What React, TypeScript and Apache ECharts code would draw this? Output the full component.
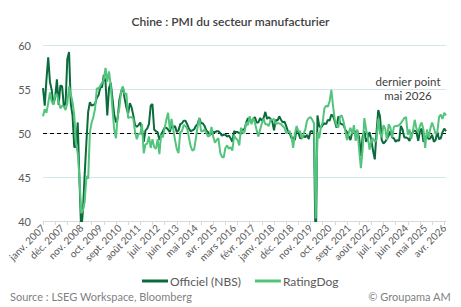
import React, { useEffect, useRef } from "react";
import * as echarts from "echarts";

const monthNames = ["janv.", "févr.", "mars", "avr.", "mai", "juin", "juil.", "août", "sept.", "oct.", "nov.", "déc."];
const firstYear = 2007;

// Officiel (NBS), monthly from janv. 2007 to mai 2026
const nbs = [
  55.1, 53.1, 56.1, 58.6, 55.8, 54.9, 53.3, 54.0, 56.1, 53.2, 55.4, 55.3,
  53.0, 53.4, 58.4, 59.2, 53.3, 52.0, 48.4, 48.4, 51.2, 44.6, 38.8, 41.2,
  45.3, 49.0, 52.4, 53.5, 53.1, 53.2, 53.3, 54.0, 54.3, 55.2, 55.2, 56.6,
  55.8, 52.0, 55.1, 55.7, 53.9, 52.1, 51.2, 51.7, 53.8, 54.7, 55.2, 53.9,
  52.9, 52.2, 53.4, 52.9, 52.0, 50.9, 50.7, 50.9, 51.2, 50.4, 49.0, 50.3,
  50.5, 51.0, 53.1, 53.3, 50.4, 50.2, 50.1, 49.2, 49.8, 50.2, 50.6, 50.6,
  50.4, 50.1, 50.9, 50.6, 50.8, 50.1, 50.3, 51.0, 51.1, 51.4, 51.4, 51.0,
  50.5, 50.2, 50.3, 50.4, 50.8, 51.0, 51.7, 51.1, 51.1, 50.8, 50.3, 50.1,
  49.8, 49.9, 50.1, 50.1, 50.2, 50.2, 50.0, 49.7, 49.8, 49.8, 49.6, 49.7,
  49.4, 49.0, 50.2, 50.1, 50.1, 50.0, 49.9, 50.4, 50.4, 51.2, 51.7, 51.4,
  51.3, 51.6, 51.8, 51.2, 51.2, 51.7, 51.4, 51.7, 52.4, 51.6, 51.8, 51.6,
  51.3, 50.3, 51.5, 51.4, 51.9, 51.5, 51.2, 51.3, 50.8, 50.2, 50.0, 49.4,
  49.5, 49.2, 50.5, 50.1, 49.4, 49.4, 49.7, 49.5, 49.8, 49.3, 50.2, 50.2,
  50.0, 35.7, 52.0, 50.8, 50.6, 50.9, 51.1, 51.0, 51.5, 51.4, 52.1, 51.9,
  51.3, 50.6, 51.9, 51.1, 51.0, 50.9, 50.4, 50.1, 49.6, 49.2, 50.1, 50.3,
  50.1, 50.2, 49.5, 47.4, 49.6, 50.2, 49.0, 49.4, 50.1, 49.2, 48.0, 47.0,
  50.1, 52.6, 51.9, 49.2, 48.8, 49.0, 49.3, 49.7, 50.2, 49.5, 49.4, 49.0,
  49.2, 49.1, 50.8, 50.4, 49.5, 49.5, 49.4, 49.1, 49.8, 50.1, 50.3, 50.1,
  49.1, 50.2, 50.5, 49.0, 49.5, 49.7, 49.3, 49.4, 49.8, 49.0, 49.2, 50.1,
  49.3, 49.4, 50.1, 50.5, 50.2,
];

// RatingDog (ex-Caixin), monthly from janv. 2007 to mai 2026
const ratingDog = [
  51.9, 52.7, 52.3, 53.4, 54.6, 53.6, 53.2, 54.2, 54.4, 53.6, 52.8, 53.1,
  53.0, 52.6, 53.4, 55.3, 54.4, 53.5, 52.0, 48.8, 47.7, 44.9, 40.9, 41.2,
  42.2, 45.1, 44.8, 50.1, 51.2, 51.8, 52.8, 55.1, 55.0, 55.4, 55.7, 56.1,
  57.4, 55.8, 57.0, 55.4, 52.7, 50.4, 49.4, 51.9, 52.9, 54.8, 55.3, 54.4,
  54.5, 51.7, 51.8, 51.8, 51.6, 50.1, 49.3, 49.9, 49.9, 51.0, 47.7, 48.7,
  48.8, 49.6, 48.3, 49.3, 48.4, 48.2, 49.3, 47.6, 49.8, 49.5, 50.5, 51.5,
  52.3, 50.4, 51.6, 50.4, 49.2, 48.2, 47.7, 50.1, 50.2, 50.9, 50.8, 50.5,
  49.5, 48.5, 48.0, 48.1, 49.4, 50.7, 51.7, 50.2, 50.2, 50.4, 50.0, 49.6,
  49.7, 50.7, 49.6, 48.9, 49.2, 49.4, 47.8, 47.3, 47.2, 48.3, 48.6, 48.2,
  48.4, 48.0, 49.7, 49.4, 49.2, 48.6, 50.6, 50.0, 50.1, 51.2, 50.9, 51.9,
  51.0, 51.7, 51.2, 50.3, 49.6, 50.4, 51.1, 51.6, 51.0, 51.0, 50.8, 51.5,
  51.5, 51.6, 51.0, 51.1, 51.1, 51.0, 50.8, 50.6, 50.0, 50.1, 50.2, 49.7,
  48.3, 49.9, 50.8, 50.2, 50.2, 49.4, 49.9, 50.4, 51.4, 51.7, 51.8, 51.5,
  51.1, 40.3, 50.1, 49.4, 50.7, 51.2, 52.8, 53.1, 53.0, 53.6, 54.9, 53.0,
  51.5, 50.9, 50.6, 51.9, 52.0, 51.3, 50.3, 49.2, 50.0, 50.6, 49.9, 50.9,
  49.1, 50.4, 48.1, 46.0, 48.1, 51.7, 50.4, 49.5, 48.1, 49.2, 49.4, 49.0,
  49.2, 51.6, 50.0, 49.5, 50.9, 50.5, 49.2, 51.0, 50.6, 49.5, 50.7, 50.8,
  50.8, 50.9, 51.1, 51.4, 51.7, 51.8, 49.8, 50.4, 49.3, 50.3, 51.5, 50.5,
  50.1, 50.8, 51.2, 50.4, 48.3, 50.4, 49.5, 50.5, 51.2, 50.6, 49.9, 50.1,
  51.8, 52.1, 51.6, 52.3, 52.0,
];

const categories = nbs.map((_, i) => `${monthNames[i % 12]} ${firstYear + Math.floor(i / 12)}`);

const seriesNames = ["Officiel (NBS)", "RatingDog"];
const seriesColors = ["#0a6b3b", "#52c47c"];
const titleText = "Chine : PMI du secteur manufacturier";
const annotationLines = ["dernier point", "mai 2026"];
const sourceText = "Source : LSEG Workspace, Bloomberg";
const copyrightText = "© Groupama AM";
const yMin = 40;
const yMax = 60;
const yStep = 5;
const refLevel = 50;

const FONT = "Lato, 'Noto Sans', sans-serif";

export default function App() {
  const ref = useRef<HTMLDivElement>(null);
  useEffect(() => {
    if (!ref.current) return;
    const chart = echarts.init(ref.current, null, { renderer: "svg" });
    chart.setOption({
      animation: false,
      backgroundColor: "#ffffff",
      textStyle: { fontFamily: FONT },
      title: {
        text: titleText,
        left: "center",
        top: 10,
        textStyle: { fontSize: 12, fontWeight: 600, color: "#404040", fontFamily: FONT },
      },
      grid: { left: 43, right: 15, top: 45, bottom: 86, containLabel: false },
      legend: {
        data: seriesNames,
        left: 137,
        top: 270,
        icon: "rect",
        itemWidth: 26,
        itemHeight: 3,
        itemGap: 14,
        textStyle: { fontSize: 12, color: "#595959", fontFamily: FONT, padding: [0, 0, 0, -3] },
      },
      xAxis: {
        type: "category",
        data: categories,
        boundaryGap: false,
        axisLine: { lineStyle: { color: "#d9d9d9", width: 1 } },
        axisTick: { interval: 6, length: 4, lineStyle: { color: "#d9d9d9" } },
        axisLabel: {
          interval: 10,
          rotate: 45,
          fontSize: 10,
          color: "#595959",
          margin: 5,
          fontFamily: FONT,
        },
        splitLine: { show: false },
      },
      yAxis: {
        type: "value",
        min: yMin,
        max: yMax,
        interval: yStep,
        axisLine: { show: false },
        axisTick: { show: false },
        axisLabel: { fontSize: 11, color: "#595959", margin: 12, fontFamily: FONT },
        splitLine: { lineStyle: { color: "#d3e7ec", width: 1 } },
      },
      series: [
        {
          name: seriesNames[0],
          type: "line",
          data: nbs,
          showSymbol: false,
          symbol: "none",
          clip: true,
          lineStyle: { color: seriesColors[0], width: 2 },
          itemStyle: { color: seriesColors[0] },
          markLine: {
            silent: true,
            symbol: "none",
            label: { show: false },
            lineStyle: { color: "#000000", type: [4, 3], width: 1 },
            data: [{ yAxis: refLevel }],
            z: 1,
          },
        },
        {
          name: seriesNames[1],
          type: "line",
          data: ratingDog,
          showSymbol: false,
          symbol: "none",
          clip: true,
          lineStyle: { color: seriesColors[1], width: 2 },
          itemStyle: { color: seriesColors[1] },
        },
      ],
      graphic: [
        {
          type: "text",
          x: 408,
          y: 81,
          style: {
            text: annotationLines[0],
            fill: "#404040",
            fontSize: 11.5,
            fontFamily: FONT,
            align: "center",
            verticalAlign: "middle",
          },
        },
        {
          type: "text",
          x: 408,
          y: 95,
          style: {
            text: annotationLines[1],
            fill: "#404040",
            fontSize: 11.5,
            fontFamily: FONT,
            align: "center",
            verticalAlign: "middle",
          },
        },
        {
          type: "text",
          left: 10,
          top: 291,
          style: { text: sourceText, fill: "#7f7f7f", fontSize: 11, fontFamily: FONT },
        },
        {
          type: "text",
          right: 10,
          top: 291,
          style: { text: copyrightText, fill: "#7f7f7f", fontSize: 11, fontFamily: FONT },
        },
      ],
    });
    return () => chart.dispose();
  }, []);
  return (
    <div
      ref={ref}
      style={{ position: "fixed", left: 0, top: 0, width: 461, height: 307, background: "#fff" }}
    />
  );
}
